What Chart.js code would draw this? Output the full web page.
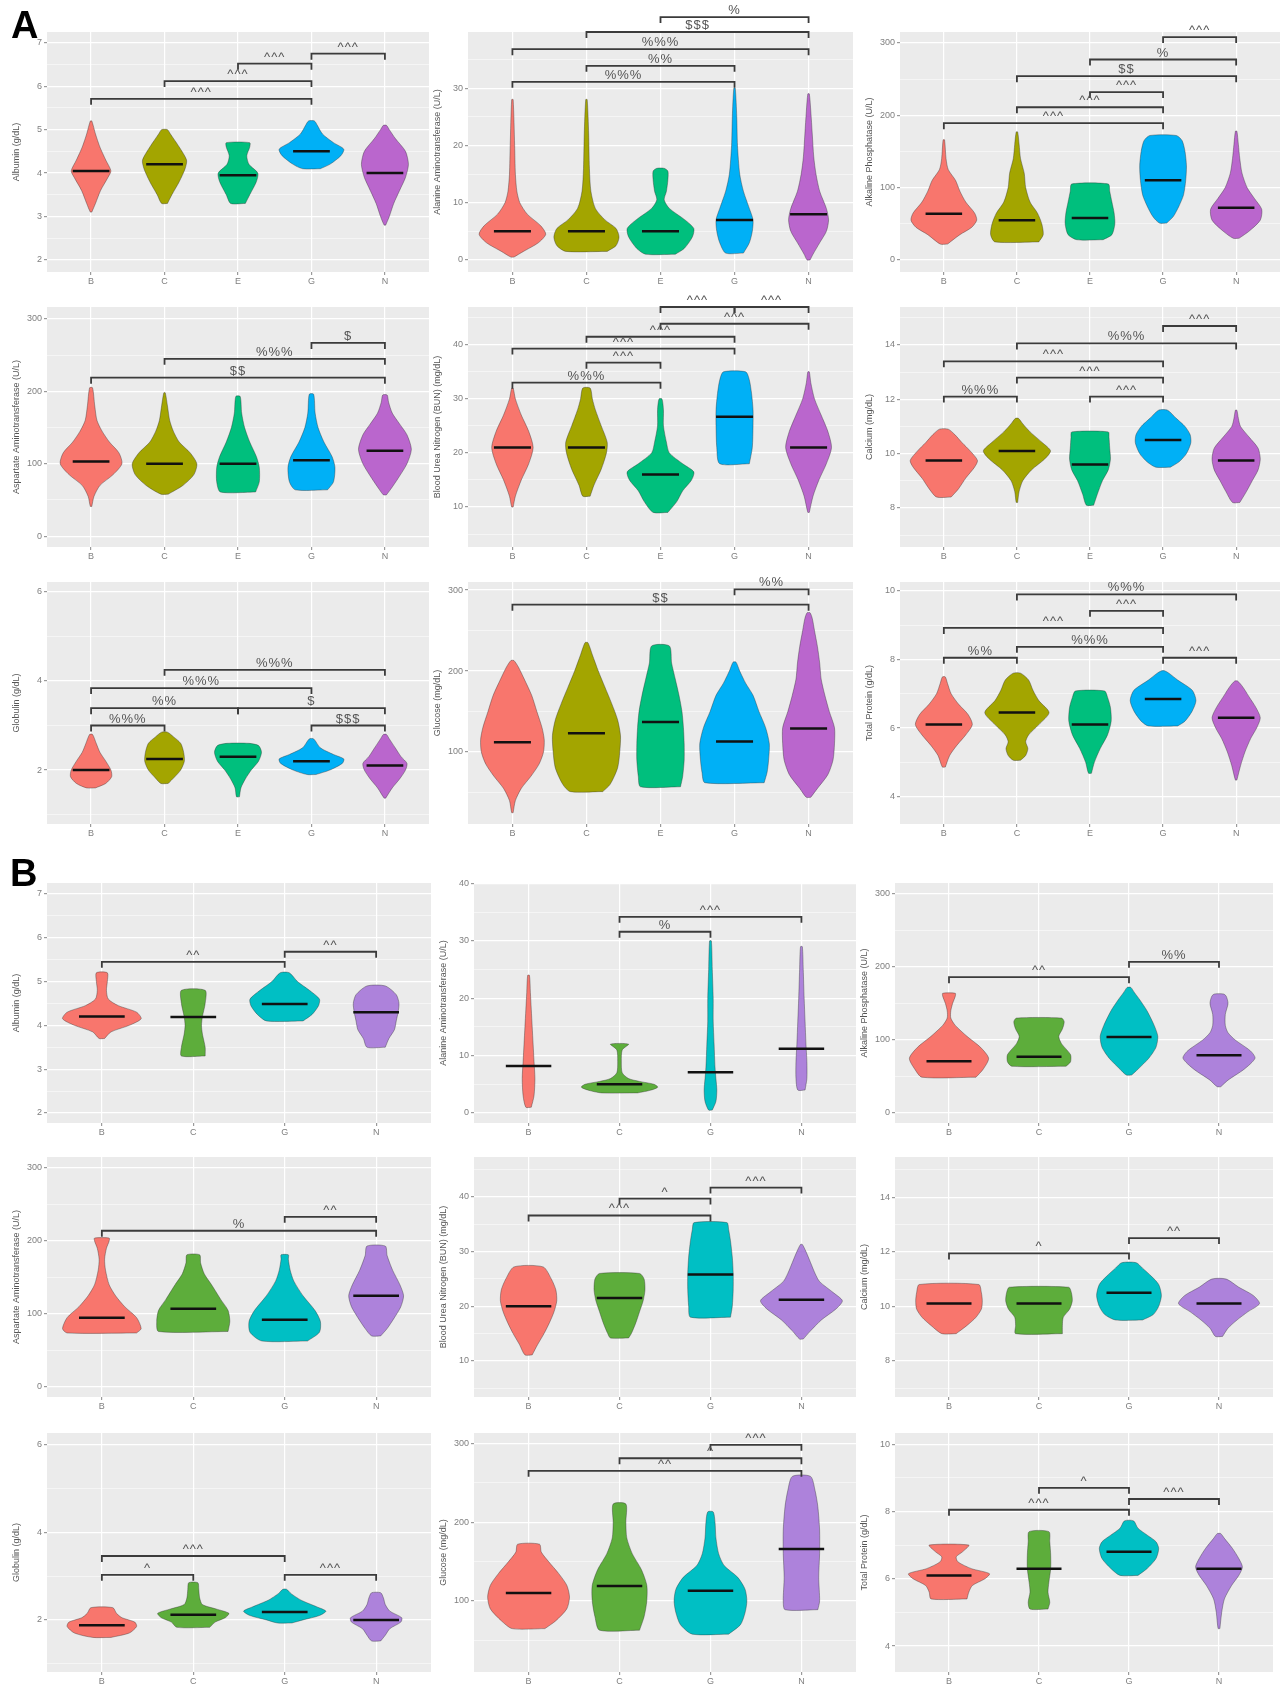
<!DOCTYPE html>
<html>
<head>
<meta charset="utf-8">
<script src="https://cdn.jsdelivr.net/npm/chart.js@4.4.1/dist/chart.umd.min.js"></script>
<style>
  body { margin: 0; background: #fff; width: 1281px; height: 1687px; position: relative; overflow: hidden; }
  canvas { position: absolute; }
  .tag { position: absolute; z-index: 5; font: bold 38px 'Liberation Sans', Arial, sans-serif; color: #000; }
</style>
</head>
<body>
<div class="tag" style="left:11px;top:4px">A</div>
<div class="tag" style="left:10px;top:852px">B</div>
<script>
// groups
const groupsA = ['B', 'C', 'E', 'G', 'N'];
const groupsB = ['B', 'C', 'G', 'N'];

const yTitles = ['Albumin (g/dL)', 'Alanine Aminotransferase (U/L)', 'Alkaline Phosphatase (U/L)',
  'Aspartate Aminotransferase (U/L)', 'Blood Urea Nitrogen (BUN) (mg/dL)', 'Calcium (mg/dL)',
  'Globulin (g/dL)', 'Glucose (mg/dL)', 'Total Protein (g/dL)'];
const yTicks = [[2, 3, 4, 5, 6, 7], [0, 10, 20, 30], [0, 100, 200, 300], [0, 100, 200, 300],
  [10, 20, 30, 40], [8, 10, 12, 14], [2, 4, 6], [100, 200, 300], [4, 6, 8, 10]];
const yRangeA = [[1.72, 7.25], [-2.1, 39.8], [-16.6, 315], [-15, 316.6], [2.6, 47], [6.56, 15.4],
  [0.79, 6.22], [11, 310], [3.2, 10.26]];
const yRangeB = [[1.77, 7.25], [-1.75, 40.1], [-13.7, 315], [-13.7, 315], [3.4, 47.3], [6.68, 15.47],
  [0.81, 6.27], [10, 313], [3.23, 10.33]];

// violin outlines: [value, half width] from bottom to top, one list per group
// brackets: [from group, to group, height, label]

// ---- A: Albumin
const violinA1 = [
  [[3.1, 0.01], [3.3, 0.06], [3.6, 0.13], [3.9, 0.23], [4.05, 0.27], [4.3, 0.2], [4.6, 0.12], [4.9, 0.06], [5.2, 0.01]],
  [[3.3, 0.04], [3.5, 0.1], [3.8, 0.2], [4.1, 0.28], [4.3, 0.3], [4.6, 0.2], [4.9, 0.08], [5.0, 0.04]],
  [[3.3, 0.1], [3.5, 0.16], [3.8, 0.25], [4.0, 0.27], [4.2, 0.15], [4.4, 0.12], [4.6, 0.16], [4.7, 0.16]],
  [[4.1, 0.12], [4.2, 0.25], [4.4, 0.4], [4.55, 0.44], [4.7, 0.3], [4.9, 0.15], [5.1, 0.08], [5.2, 0.04]],
  [[2.8, 0.01], [3.0, 0.06], [3.3, 0.12], [3.6, 0.2], [3.9, 0.28], [4.2, 0.32], [4.5, 0.28], [4.8, 0.14], [5.0, 0.06], [5.1, 0.02]]
];
const medianA1 = [4.05, 4.2, 3.95, 4.5, 4.0];
const bracketsA1 = [[1, 4, 5.71, '^^^'], [2, 4, 6.12, '^^^'], [3, 4, 6.52, '^^^'], [4, 5, 6.75, '^^^']];

// ---- A: Alanine Aminotransferase
const violinA2 = [
  [[0.5, 0.02], [1.5, 0.15], [3, 0.35], [4.5, 0.45], [6, 0.38], [8, 0.2], [10, 0.1], [12, 0.06], [15, 0.04], [20, 0.03], [28, 0.01]],
  [[1.5, 0.28], [2.5, 0.4], [4, 0.44], [5.5, 0.4], [7, 0.25], [9, 0.12], [12, 0.06], [16, 0.04], [22, 0.03], [28, 0.01]],
  [[1, 0.2], [2, 0.32], [4, 0.43], [5.5, 0.45], [7, 0.33], [9, 0.12], [10.5, 0.05], [12, 0.08], [14, 0.1], [15.5, 0.1], [16, 0.05]],
  [[1.2, 0.12], [3, 0.2], [5, 0.24], [7, 0.25], [9, 0.2], [12, 0.12], [15, 0.07], [20, 0.04], [25, 0.03], [30, 0.01]],
  [[0, 0.02], [1, 0.06], [3, 0.15], [5, 0.24], [7, 0.27], [9, 0.24], [12, 0.15], [15, 0.1], [18, 0.07], [22, 0.05], [26, 0.03], [29, 0.01]]
];
const medianA2 = [5, 5, 5, 7, 8];
const bracketsA2 = [[1, 4, 31.1, '%%%'], [2, 4, 33.9, '%%'], [1, 5, 36.8, '%%%'], [2, 5, 39.8, '$$$'], [3, 5, 42.4, '%']];

// ---- A: Alkaline Phosphatase
const violinA3 = [
  [[22, 0.05], [35, 0.22], [45, 0.38], [55, 0.45], [65, 0.42], [80, 0.3], [95, 0.22], [110, 0.16], [125, 0.06], [140, 0.03], [166, 0.01]],
  [[25, 0.3], [35, 0.36], [50, 0.34], [65, 0.28], [80, 0.18], [100, 0.12], [120, 0.1], [140, 0.05], [160, 0.03], [177, 0.01]],
  [[28, 0.18], [35, 0.3], [50, 0.34], [65, 0.33], [80, 0.3], [95, 0.27], [105, 0.25]],
  [[51, 0.05], [60, 0.14], [75, 0.22], [90, 0.28], [110, 0.31], [130, 0.32], [150, 0.3], [165, 0.26], [172, 0.18]],
  [[30, 0.04], [40, 0.18], [55, 0.33], [70, 0.35], [85, 0.25], [100, 0.15], [120, 0.08], [140, 0.05], [160, 0.03], [178, 0.01]]
];
const medianA3 = [64, 55, 58, 110, 72];
const bracketsA3 = [[1, 4, 189, '^^^'], [2, 4, 211, '^^^'], [3, 4, 232, '^^^'], [2, 5, 254, '$$'], [3, 5, 277, '%'], [4, 5, 308, '^^^']];

// ---- A: Aspartate Aminotransferase
const violinA4 = [
  [[41, 0.01], [55, 0.04], [70, 0.12], [85, 0.3], [100, 0.42], [115, 0.38], [130, 0.25], [145, 0.15], [160, 0.08], [180, 0.05], [205, 0.02]],
  [[58, 0.05], [70, 0.25], [85, 0.4], [100, 0.44], [115, 0.35], [130, 0.2], [145, 0.12], [160, 0.07], [180, 0.04], [198, 0.01]],
  [[61, 0.24], [75, 0.29], [95, 0.29], [110, 0.25], [130, 0.16], [150, 0.09], [170, 0.05], [193, 0.03]],
  [[64, 0.22], [75, 0.3], [95, 0.32], [110, 0.28], [130, 0.17], [150, 0.09], [170, 0.05], [196, 0.03]],
  [[57, 0.02], [65, 0.08], [80, 0.18], [100, 0.3], [120, 0.36], [140, 0.3], [155, 0.2], [170, 0.1], [185, 0.05], [195, 0.03]]
];
const medianA4 = [103, 100, 100, 105, 118];
const bracketsA4 = [[1, 5, 219, '$$'], [2, 5, 245, '%%%'], [4, 5, 267, '$']];

// ---- A: Blood Urea Nitrogen
const violinA5 = [
  [[10, 0.01], [12, 0.04], [15, 0.12], [18, 0.22], [21, 0.28], [24, 0.22], [27, 0.12], [30, 0.04], [32, 0.01]],
  [[12, 0.05], [14, 0.1], [17, 0.2], [20, 0.27], [22, 0.28], [25, 0.2], [28, 0.12], [30, 0.08], [32, 0.05]],
  [[9, 0.1], [11, 0.22], [13, 0.3], [15, 0.42], [16.5, 0.45], [18, 0.3], [20, 0.12], [22, 0.08], [25, 0.04], [28, 0.04], [30, 0.02]],
  [[18, 0.2], [21, 0.24], [25, 0.25], [28, 0.25], [31, 0.23], [33.5, 0.2], [35, 0.15]],
  [[9, 0.01], [12, 0.06], [15, 0.14], [18, 0.24], [21, 0.31], [24, 0.26], [27, 0.17], [30, 0.08], [33, 0.03], [35, 0.01]]
];
const medianA5 = [21, 21, 16, 26.7, 21];
const bracketsA5 = [[1, 3, 33, '%%%'], [2, 3, 36.7, '^^^'], [1, 4, 39.3, '^^^'], [2, 4, 41.5, '^^^'],
  [3, 5, 43.9, '^^^'], [3, 4, 47, '^^^'], [4, 5, 47, '^^^']];

// ---- A: Calcium
const violinA6 = [
  [[8.4, 0.1], [8.7, 0.2], [9.1, 0.3], [9.5, 0.42], [9.75, 0.46], [10.1, 0.36], [10.4, 0.25], [10.7, 0.15], [10.9, 0.06]],
  [[8.2, 0.01], [8.6, 0.03], [9.0, 0.08], [9.4, 0.2], [9.8, 0.38], [10.1, 0.46], [10.4, 0.35], [10.8, 0.18], [11.1, 0.08], [11.3, 0.02]],
  [[8.1, 0.05], [8.5, 0.1], [9.0, 0.17], [9.4, 0.25], [9.8, 0.28], [10.2, 0.27], [10.6, 0.26], [10.8, 0.25]],
  [[9.5, 0.1], [9.7, 0.22], [10, 0.32], [10.4, 0.38], [10.7, 0.37], [11, 0.3], [11.3, 0.18], [11.6, 0.06]],
  [[8.2, 0.05], [8.6, 0.14], [9.0, 0.22], [9.4, 0.3], [9.8, 0.33], [10.2, 0.3], [10.6, 0.18], [11, 0.06], [11.3, 0.03], [11.6, 0.01]]
];
const medianA6 = [9.75, 10.1, 9.6, 10.5, 9.75];
const bracketsA6 = [[1, 2, 12.1, '%%%'], [3, 4, 12.1, '^^^'], [2, 4, 12.8, '^^^'], [1, 4, 13.4, '^^^'],
  [2, 5, 14.06, '%%%'], [4, 5, 14.7, '^^^']];

// ---- A: Globulin
const violinA7 = [
  [[1.6, 0.06], [1.7, 0.2], [1.85, 0.28], [2.0, 0.27], [2.2, 0.2], [2.4, 0.12], [2.6, 0.07], [2.8, 0.02]],
  [[1.7, 0.05], [1.85, 0.14], [2.0, 0.22], [2.2, 0.27], [2.4, 0.26], [2.6, 0.22], [2.75, 0.12], [2.85, 0.04]],
  [[1.4, 0.02], [1.6, 0.04], [1.8, 0.1], [2.0, 0.18], [2.2, 0.28], [2.4, 0.32], [2.55, 0.28], [2.6, 0.15]],
  [[1.9, 0.06], [2.0, 0.25], [2.15, 0.42], [2.25, 0.44], [2.35, 0.3], [2.5, 0.12], [2.7, 0.03]],
  [[1.37, 0.01], [1.6, 0.1], [1.8, 0.2], [2.0, 0.28], [2.15, 0.3], [2.3, 0.22], [2.5, 0.14], [2.7, 0.06], [2.8, 0.02]]
];
const medianA7 = [2.0, 2.25, 2.3, 2.2, 2.1];
const bracketsA7 = [[1, 2, 3.0, '%%%'], [4, 5, 3.0, '$$$'], [1, 3, 3.39, '%%'], [3, 5, 3.39, '$'],
  [1, 4, 3.84, '%%%'], [2, 5, 4.25, '%%%']];

// ---- A: Glucose
const violinA8 = [
  [[25, 0.01], [40, 0.04], [55, 0.12], [70, 0.25], [85, 0.36], [100, 0.42], [115, 0.43], [130, 0.4], [150, 0.33], [170, 0.26], [190, 0.16], [205, 0.08], [213, 0.02]],
  [[51, 0.22], [60, 0.32], [80, 0.42], [100, 0.45], [120, 0.46], [140, 0.42], [160, 0.34], [180, 0.25], [200, 0.16], [220, 0.08], [235, 0.02]],
  [[57, 0.27], [70, 0.3], [90, 0.32], [110, 0.32], [130, 0.31], [150, 0.29], [170, 0.25], [190, 0.2], [210, 0.15], [231, 0.12]],
  [[62, 0.4], [75, 0.44], [90, 0.46], [110, 0.47], [130, 0.42], [150, 0.33], [170, 0.25], [185, 0.15], [200, 0.07], [211, 0.02]],
  [[44, 0.03], [55, 0.12], [72, 0.26], [90, 0.33], [110, 0.35], [130, 0.35], [150, 0.28], [170, 0.22], [190, 0.17], [210, 0.15], [230, 0.12], [250, 0.08], [265, 0.05], [272, 0.02]]
];
const medianA8 = [112, 123, 137, 113, 129];
const bracketsA8 = [[1, 5, 282, '$$'], [4, 5, 301, '%%']];

// ---- A: Total Protein
const violinA9 = [
  [[4.86, 0.02], [5.2, 0.08], [5.5, 0.18], [5.8, 0.3], [6.1, 0.39], [6.4, 0.33], [6.7, 0.2], [7.0, 0.1], [7.3, 0.05], [7.49, 0.02]],
  [[5.06, 0.05], [5.2, 0.12], [5.4, 0.15], [5.6, 0.12], [5.8, 0.16], [6.1, 0.3], [6.45, 0.44], [6.8, 0.3], [7.1, 0.22], [7.4, 0.16], [7.6, 0.05]],
  [[4.68, 0.02], [5.0, 0.06], [5.4, 0.14], [5.8, 0.24], [6.2, 0.29], [6.6, 0.28], [6.9, 0.24], [7.08, 0.2]],
  [[6.06, 0.2], [6.2, 0.3], [6.5, 0.4], [6.8, 0.45], [7.1, 0.4], [7.4, 0.2], [7.6, 0.08], [7.67, 0.02]],
  [[4.48, 0.01], [4.9, 0.06], [5.3, 0.12], [5.7, 0.2], [6.0, 0.28], [6.3, 0.33], [6.6, 0.27], [6.9, 0.18], [7.2, 0.09], [7.37, 0.02]]
];
const medianA9 = [6.1, 6.45, 6.1, 6.85, 6.3];
const bracketsA9 = [[1, 2, 8.05, '%%'], [4, 5, 8.05, '^^^'], [2, 4, 8.37, '%%%'], [1, 4, 8.92, '^^^'],
  [3, 4, 9.42, '^^^'], [2, 5, 9.9, '%%%']];

// ---- B: Albumin
const violinB1 = [
  [[3.7, 0.03], [3.85, 0.1], [4.0, 0.3], [4.15, 0.43], [4.3, 0.38], [4.45, 0.18], [4.6, 0.07], [4.8, 0.05], [5.0, 0.06], [5.2, 0.06]],
  [[3.3, 0.13], [3.5, 0.13], [3.8, 0.1], [4.0, 0.09], [4.2, 0.1], [4.5, 0.13], [4.8, 0.13]],
  [[4.1, 0.2], [4.25, 0.3], [4.45, 0.37], [4.6, 0.38], [4.8, 0.27], [5.0, 0.14], [5.2, 0.05]],
  [[3.5, 0.1], [3.7, 0.14], [3.9, 0.2], [4.1, 0.22], [4.3, 0.24], [4.5, 0.25], [4.7, 0.22], [4.9, 0.1]]
];
const medianB1 = [4.2, 4.19, 4.49, 4.3];
const bracketsB1 = [[1, 3, 5.45, '^^'], [3, 4, 5.68, '^^']];

// ---- B: Alanine Aminotransferase
const violinB2 = [
  [[1, 0.03], [3, 0.06], [6, 0.07], [9, 0.06], [12, 0.05], [15, 0.04], [18, 0.03], [21, 0.02], [24, 0.01]],
  [[3.5, 0.2], [4, 0.35], [4.5, 0.42], [5, 0.38], [5.5, 0.22], [6, 0.1], [7, 0.03], [9, 0.02], [11, 0.03], [12, 0.1]],
  [[0.5, 0.02], [2, 0.06], [4, 0.07], [6, 0.06], [8, 0.05], [12, 0.04], [16, 0.03], [20, 0.03], [25, 0.02], [30, 0.01]],
  [[4, 0.04], [6, 0.06], [9, 0.06], [12, 0.05], [16, 0.04], [20, 0.03], [25, 0.02], [29, 0.01]]
];
const medianB2 = [8.2, 5, 7.1, 11.2];
const bracketsB2 = [[2, 3, 31.6, '%'], [2, 4, 34.2, '^^^']];

// ---- B: Alkaline Phosphatase
const violinB3 = [
  [[49, 0.3], [60, 0.38], [75, 0.44], [90, 0.35], [105, 0.2], [120, 0.07], [130, 0.02], [140, 0.02], [150, 0.04], [160, 0.07], [164, 0.07]],
  [[64, 0.3], [70, 0.35], [80, 0.35], [95, 0.25], [105, 0.22], [115, 0.26], [125, 0.28], [130, 0.25]],
  [[52, 0.03], [60, 0.1], [75, 0.22], [90, 0.3], [105, 0.32], [120, 0.28], [140, 0.2], [155, 0.12], [165, 0.06], [172, 0.02]],
  [[36, 0.02], [45, 0.1], [60, 0.28], [75, 0.4], [85, 0.35], [100, 0.18], [110, 0.1], [120, 0.07], [135, 0.07], [150, 0.1], [160, 0.08], [163, 0.05]]
];
const medianB3 = [71, 77, 104, 79];
const bracketsB3 = [[1, 3, 186, '^^'], [3, 4, 207, '%%']];

// ---- B: Aspartate Aminotransferase
const violinB4 = [
  [[74, 0.38], [80, 0.43], [95, 0.38], [110, 0.25], [125, 0.15], [140, 0.08], [160, 0.04], [175, 0.03], [190, 0.05], [200, 0.08], [204, 0.08]],
  [[76, 0.38], [90, 0.4], [105, 0.38], [120, 0.3], [140, 0.2], [155, 0.12], [170, 0.08], [181, 0.07]],
  [[63, 0.25], [75, 0.38], [90, 0.39], [105, 0.33], [125, 0.2], [145, 0.1], [160, 0.06], [175, 0.04], [181, 0.04]],
  [[70, 0.05], [80, 0.12], [95, 0.2], [110, 0.27], [125, 0.3], [140, 0.26], [160, 0.18], [180, 0.12], [193, 0.1]]
];
const medianB4 = [95, 107, 92, 125];
const bracketsB4 = [[1, 4, 214, '%'], [3, 4, 233, '^^']];

// ---- B: Blood Urea Nitrogen
const violinB5 = [
  [[11.1, 0.04], [13, 0.1], [15, 0.17], [17, 0.23], [19, 0.28], [21, 0.31], [23, 0.3], [25, 0.25], [27.2, 0.16]],
  [[14.2, 0.1], [15, 0.13], [17, 0.18], [19, 0.22], [21, 0.26], [23, 0.28], [25, 0.27], [26, 0.22]],
  [[18, 0.22], [20, 0.24], [23, 0.25], [26, 0.25], [29, 0.24], [32, 0.22], [34, 0.2], [35.3, 0.18]],
  [[14, 0.02], [15.5, 0.1], [17.5, 0.22], [19.5, 0.38], [21, 0.45], [22.5, 0.35], [24.5, 0.2], [26, 0.15], [28, 0.1], [30, 0.05], [31.3, 0.01]]
];
const medianB5 = [20, 21.5, 25.8, 21.2];
const bracketsB5 = [[1, 3, 36.6, '^^^'], [2, 3, 39.7, '^'], [3, 4, 41.7, '^^^']];

// ---- B: Calcium
const violinB6 = [
  [[9.0, 0.08], [9.3, 0.2], [9.6, 0.3], [9.9, 0.36], [10.2, 0.37], [10.5, 0.36], [10.8, 0.33]],
  [[9.0, 0.26], [9.3, 0.26], [9.6, 0.27], [9.9, 0.34], [10.2, 0.37], [10.5, 0.36], [10.7, 0.33]],
  [[9.5, 0.15], [9.7, 0.27], [10.0, 0.33], [10.4, 0.36], [10.8, 0.33], [11.1, 0.25], [11.4, 0.15], [11.6, 0.08]],
  [[8.9, 0.04], [9.2, 0.1], [9.5, 0.2], [9.8, 0.32], [10.1, 0.45], [10.4, 0.38], [10.7, 0.22], [11.0, 0.08]]
];
const medianB6 = [10.1, 10.1, 10.5, 10.1];
const bracketsB6 = [[1, 3, 11.94, '^'], [3, 4, 12.5, '^^']];

// ---- B: Globulin
const violinB7 = [
  [[1.6, 0.1], [1.7, 0.3], [1.85, 0.38], [1.95, 0.36], [2.05, 0.22], [2.15, 0.16], [2.28, 0.12]],
  [[1.83, 0.18], [1.95, 0.24], [2.05, 0.35], [2.15, 0.39], [2.25, 0.25], [2.35, 0.1], [2.5, 0.07], [2.7, 0.06], [2.85, 0.05]],
  [[1.93, 0.08], [2.0, 0.2], [2.1, 0.38], [2.2, 0.45], [2.3, 0.35], [2.45, 0.18], [2.6, 0.07], [2.7, 0.02]],
  [[1.52, 0.05], [1.65, 0.1], [1.8, 0.15], [1.95, 0.27], [2.05, 0.28], [2.2, 0.15], [2.35, 0.1], [2.5, 0.08], [2.62, 0.05]]
];
const medianB7 = [1.88, 2.12, 2.18, 2.0];
const bracketsB7 = [[1, 2, 3.03, '^'], [3, 4, 3.03, '^^^'], [1, 3, 3.46, '^^^']];

// ---- B: Glucose
const violinB8 = [
  [[65, 0.18], [75, 0.3], [90, 0.42], [105, 0.45], [120, 0.42], [135, 0.33], [150, 0.22], [162, 0.14], [172, 0.12]],
  [[63, 0.22], [80, 0.27], [100, 0.3], [120, 0.3], [140, 0.24], [160, 0.14], [180, 0.08], [200, 0.07], [223, 0.07]],
  [[58, 0.2], [70, 0.33], [85, 0.38], [100, 0.4], [115, 0.38], [130, 0.3], [145, 0.15], [160, 0.09], [180, 0.06], [200, 0.05], [213, 0.03]],
  [[89, 0.18], [100, 0.2], [130, 0.19], [160, 0.2], [190, 0.2], [220, 0.18], [240, 0.15], [258, 0.1]]
];
const medianB8 = [110, 119, 113, 166];
const bracketsB8 = [[1, 4, 265, '^^'], [2, 4, 281, '^'], [3, 4, 298, '^^^']];

// ---- B: Total Protein
const violinB9 = [
  [[5.4, 0.2], [5.6, 0.22], [5.8, 0.26], [6.0, 0.4], [6.15, 0.45], [6.3, 0.25], [6.5, 0.1], [6.65, 0.08], [6.8, 0.15], [7.0, 0.22]],
  [[5.1, 0.1], [5.3, 0.12], [5.6, 0.1], [5.9, 0.11], [6.3, 0.13], [6.7, 0.13], [7.1, 0.12], [7.4, 0.11]],
  [[6.1, 0.1], [6.3, 0.2], [6.6, 0.3], [6.9, 0.33], [7.1, 0.3], [7.3, 0.2], [7.5, 0.1], [7.72, 0.05]],
  [[4.52, 0.01], [5.0, 0.03], [5.4, 0.06], [5.8, 0.14], [6.1, 0.22], [6.35, 0.26], [6.6, 0.22], [6.9, 0.15], [7.2, 0.06], [7.34, 0.02]]
];
const medianB9 = [6.1, 6.3, 6.8, 6.3];
const bracketsB9 = [[1, 3, 8.05, '^^^'], [3, 4, 8.37, '^^^'], [2, 3, 8.7, '^']];

// ---- look & layout
const colorsA = ['#F8766D', '#A3A500', '#00BF7D', '#00B0F6', '#BA66CD'];
const colorsB = ['#F8766D', '#5DAD3B', '#00BFC4', '#AD82DB'];
const panelColsA = [[47, 429], [468, 853], [900, 1280]];
const panelColsB = [[47, 431], [474, 856], [895, 1273]];
const panelRowsA = [[32, 272], [307, 547], [582, 824]];
const panelRowsB = [[883, 1123], [1157, 1397], [1433, 1672]];

const plotsA = [
  [violinA1, medianA1, bracketsA1], [violinA2, medianA2, bracketsA2], [violinA3, medianA3, bracketsA3],
  [violinA4, medianA4, bracketsA4], [violinA5, medianA5, bracketsA5], [violinA6, medianA6, bracketsA6],
  [violinA7, medianA7, bracketsA7], [violinA8, medianA8, bracketsA8], [violinA9, medianA9, bracketsA9]
];
const plotsB = [
  [violinB1, medianB1, bracketsB1], [violinB2, medianB2, bracketsB2], [violinB3, medianB3, bracketsB3],
  [violinB4, medianB4, bracketsB4], [violinB5, medianB5, bracketsB5], [violinB6, medianB6, bracketsB6],
  [violinB7, medianB7, bracketsB7], [violinB8, medianB8, bracketsB8], [violinB9, medianB9, bracketsB9]
];

Chart.defaults.font.family = "'Liberation Sans', Arial, sans-serif";

const panelBg = {
  id: 'panelBg',
  beforeDraw(chart) {
    const { ctx, chartArea: a } = chart;
    ctx.save();
    ctx.fillStyle = '#EBEBEB';
    ctx.fillRect(a.left, a.top, a.right - a.left, a.bottom - a.top);
    ctx.restore();
  }
};

const bracketLabels = {
  id: 'bracketLabels',
  afterDatasetsDraw(chart, args, opts) {
    const { ctx, scales: { x, y } } = chart;
    ctx.save();
    ctx.font = "13px 'Liberation Sans', Arial, sans-serif";
    ctx.fillStyle = '#555';
    ctx.textAlign = 'center';
    ctx.textBaseline = 'alphabetic';
    ctx.letterSpacing = '1px';
    opts.items.forEach(([a, b, v, t]) => {
      ctx.fillText(t, x.getPixelForValue((a + b) / 2), y.getPixelForValue(v) - 3);
    });
    ctx.restore();
  }
};

function drawPlot(groups, colors, col, row, idx, range, violins, medians, brackets) {
  const axisW = 40, axisH = 16, padTop = 34;
  const left = col[0] - axisW, top = row[0] - padTop;
  const canvas = document.createElement('canvas');
  canvas.width = col[1] - left + 2;
  canvas.height = row[1] + axisH - top;
  canvas.style.left = left + 'px';
  canvas.style.top = top + 'px';
  document.body.appendChild(canvas);

  const major = yTicks[idx];
  const half = (major[1] - major[0]) / 2;
  const isMajor = v => Math.abs(Math.round((v - major[0]) / half)) % 2 === 0;
  const tip = 0.025 * (range[1] - range[0]);

  // lower "order" is painted on top
  const datasets = [];
  violins.forEach((prof, i) => {
    const cx = i + 1;
    const pts = prof.map(([v, w]) => ({ x: cx + w, y: v }))
      .concat(prof.slice().reverse().map(([v, w]) => ({ x: cx - w, y: v })));
    pts.push(pts[0]);
    datasets.push({ data: pts, order: 3, showLine: true, fill: 'shape', backgroundColor: colors[i],
      borderColor: 'rgba(45,45,45,0.55)', borderWidth: 0.7, pointRadius: 0, tension: 0.25 });
  });
  medians.forEach((m, i) => {
    datasets.push({ data: [{ x: i + 0.75, y: m }, { x: i + 1.25, y: m }], order: 1, showLine: true,
      borderColor: '#111', borderWidth: 2.5, pointRadius: 0, fill: false });
  });
  brackets.forEach(([a, b, v]) => {
    datasets.push({ data: [{ x: a, y: v - tip }, { x: a, y: v }, { x: b, y: v }, { x: b, y: v - tip }], order: 0,
      showLine: true, borderColor: '#3b3b3b', borderWidth: 1.8, pointRadius: 0, fill: false, clip: false });
  });

  new Chart(canvas, {
    type: 'scatter',
    data: { datasets },
    options: {
      responsive: false,
      animation: false,
      layout: { padding: { top: padTop, right: 2, left: 0, bottom: 0 } },
      plugins: { legend: { display: false }, tooltip: { enabled: false }, bracketLabels: { items: brackets } },
      scales: {
        x: {
          type: 'linear', min: 0.4, max: groups.length + 0.6,
          afterBuildTicks: ax => { ax.ticks = groups.map((g, i) => ({ value: i + 1 })); },
          afterFit: ax => { ax.height = axisH; },
          ticks: { callback: v => groups[v - 1] || '', color: '#7f7f7f', font: { size: 9 }, padding: 1, autoSkip: false, maxRotation: 0 },
          grid: { color: '#fff', lineWidth: 1.2, tickLength: 3, tickColor: '#9a9a9a' },
          border: { display: false }
        },
        y: {
          type: 'linear', min: range[0], max: range[1],
          afterBuildTicks: ax => {
            const out = [];
            const kMin = Math.ceil((range[0] - major[0]) / half - 1e-9);
            const kMax = Math.floor((range[1] - major[0]) / half + 1e-9);
            for (let k = kMin; k <= kMax; k++) out.push({ value: +(major[0] + k * half).toFixed(6) });
            ax.ticks = out;
          },
          afterFit: ax => { ax.width = axisW; },
          ticks: { callback: v => (isMajor(v) ? String(v) : ''), color: '#7f7f7f', font: { size: 9 }, padding: 2, autoSkip: false },
          grid: {
            color: '#fff',
            lineWidth: c => (isMajor(c.tick.value) ? 1.2 : 0.5),
            tickLength: 3,
            tickColor: c => (isMajor(c.tick.value) ? '#9a9a9a' : 'rgba(0,0,0,0)')
          },
          border: { display: false },
          title: { display: true, text: yTitles[idx], color: '#555', font: { size: 9 }, padding: { top: 4, bottom: 0 } }
        }
      }
    },
    plugins: [panelBg, bracketLabels]
  });
}

plotsA.forEach(([v, m, b], i) => {
  drawPlot(groupsA, colorsA, panelColsA[i % 3], panelRowsA[Math.floor(i / 3)], i, yRangeA[i], v, m, b);
});
plotsB.forEach(([v, m, b], i) => {
  drawPlot(groupsB, colorsB, panelColsB[i % 3], panelRowsB[Math.floor(i / 3)], i, yRangeB[i], v, m, b);
});
</script>
</body>
</html>
